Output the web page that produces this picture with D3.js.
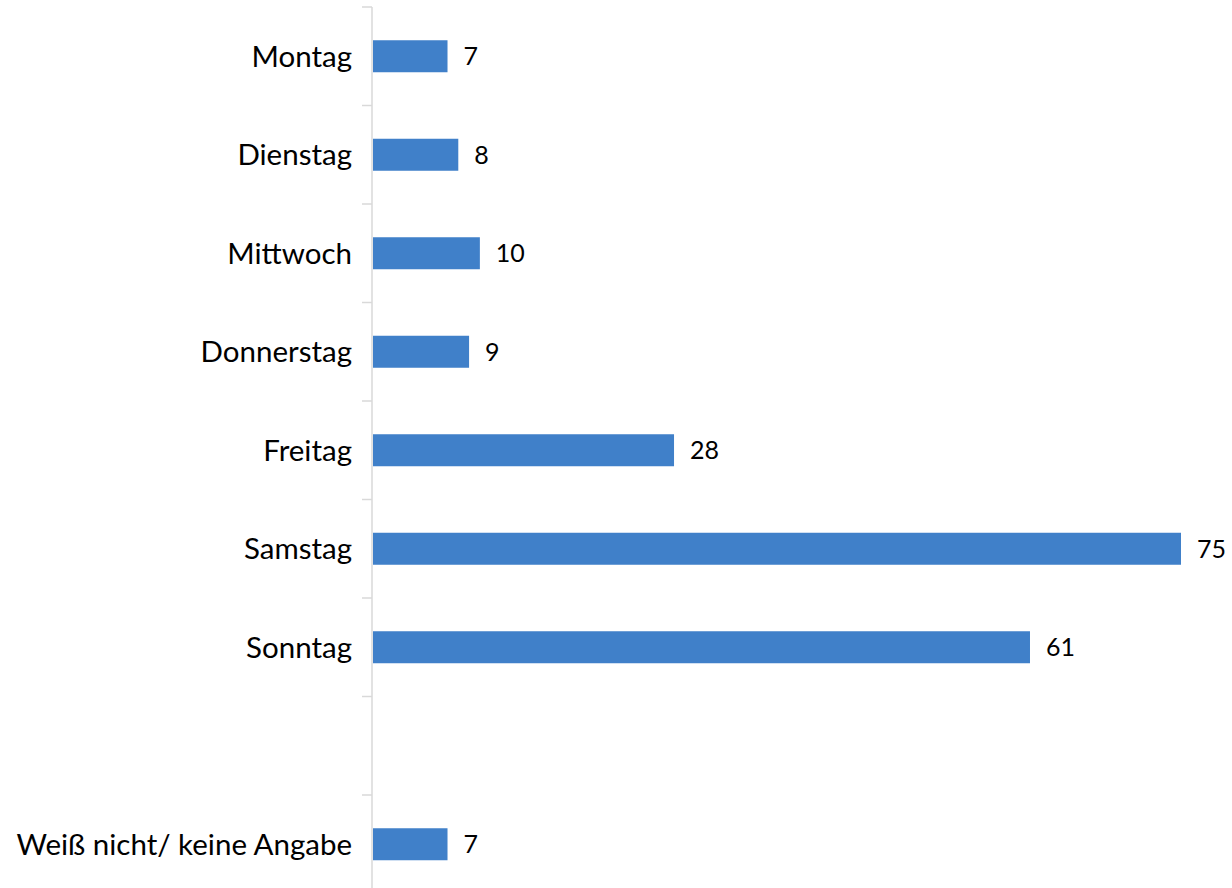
<!DOCTYPE html>
<html><head><meta charset="utf-8">
<script src="https://cdn.jsdelivr.net/npm/d3@7"></script>
<style>body{margin:0;background:#fff}svg{display:block}text{font-family:Lato,"Open Sans",sans-serif}</style>
</head><body>
<svg id="c" width="1232" height="888"></svg>
<script>
const categories = ["Montag","Dienstag","Mittwoch","Donnerstag","Freitag","Samstag","Sonntag","","Weiß nicht/ keine Angabe"];
const values = [7,8,10,9,28,75,61,null,7];
const valueLabels = ["7","8","10","9","28","75","61","","7"];

const svg = d3.select("#c");
const x0 = 372;
const x = d3.scaleLinear().domain([0,75]).range([x0, 1181]);
const y = d3.scaleBand().domain(d3.range(categories.length)).range([7, 893.5]).paddingInner(0).paddingOuter(0);
const barH = 32;

// axis line
svg.append("line").attr("x1",x0).attr("x2",x0).attr("y1",7).attr("y2",888)
  .attr("stroke","#d9d9d9").attr("stroke-width",1.5);
// ticks at band boundaries
const bounds = d3.range(categories.length).map(i=>y(i));
svg.selectAll("line.tick").data(bounds).enter().append("line")
  .attr("x1",x0-10).attr("x2",x0).attr("y1",d=>d).attr("y2",d=>d)
  .attr("stroke","#d9d9d9").attr("stroke-width",1.5);

const data = categories.map((c,i)=>({c, v: values[i], l: valueLabels[i], i}));

svg.selectAll("rect.bar").data(data.filter(d=>d.v!=null)).enter().append("rect")
  .attr("x", x(0)+1).attr("y", d=>y(d.i)+y.bandwidth()/2-barH/2)
  .attr("width", d=>x(d.v)-x(0)-1).attr("height", barH)
  .attr("fill","#4080c9");

svg.selectAll("text.cat").data(data).enter().append("text")
  .attr("x", 352).attr("y", d=>y(d.i)+y.bandwidth()/2)
  .attr("dy","0.36em").attr("text-anchor","end")
  .attr("font-size",29.5).attr("fill","#000").text(d=>d.c);

svg.selectAll("text.val").data(data.filter(d=>d.v!=null)).enter().append("text")
  .attr("x", d=>x(d.v)+16).attr("y", d=>y(d.i)+y.bandwidth()/2)
  .attr("dy","0.36em").attr("font-size",25).attr("fill","#000").text(d=>d.l);
</script>
</body></html>
